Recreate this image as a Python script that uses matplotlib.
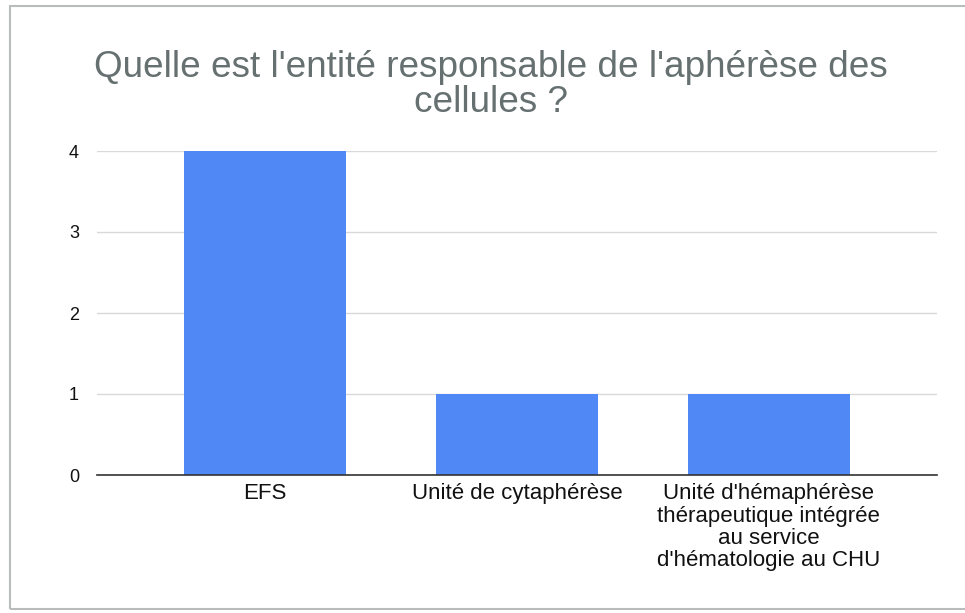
import numpy as np
import matplotlib
matplotlib.use("Agg")
import matplotlib.pyplot as plt
from matplotlib.patches import Rectangle

# data
categories = ["EFS", "Unité de cytaphérèse",
              "Unité d'hémaphérèse\nthérapeutique intégrée\nau service\nd'hématologie au CHU"]
counts = [4, 1, 1]
yticks = [0, 1, 2, 3, 4]
title = "Quelle est l'entité responsable de l'aphérèse des\ncellules ?"

plt.rcParams['font.family'] = ['Liberation Sans', 'DejaVu Sans']

fig = plt.figure(figsize=(9.65, 6.13), dpi=100)
ax = fig.add_axes([97/965, 1-475/613, (937-97)/965, (475-151)/613])

x = np.arange(len(categories))
ax.bar(x, counts, width=0.644, color='#5089f5', zorder=3)

ax.set_xlim(-0.668, len(categories) - 1 + 0.668)
ax.set_ylim(0, 4)
ax.set_yticks(yticks)
ax.set_xticks(x)
ax.set_xticklabels(categories, fontsize=16, linespacing=1.08, color='#111111')
ax.tick_params(axis='y', labelsize=13, length=0, pad=13, colors='#111111')
ax.tick_params(axis='x', length=0, pad=6)
ax.grid(axis='y', color='#d9d9d9', linewidth=1, zorder=0)
for s in ['top', 'right', 'left']:
    ax.spines[s].set_visible(False)
ax.spines['bottom'].set_color('#333333')
ax.spines['bottom'].set_linewidth(1.2)
ax.spines['bottom'].set_zorder(4)

fig.text(491/965, 1-85/613, title, ha='center', va='center', fontsize=26.6,
         color='#667070', linespacing=1.0)

# grey frame around the chart
fig.patches.append(Rectangle((10/965, 1-609/613), 1.0, (609-6)/613,
                             transform=fig.transFigure, fill=False,
                             edgecolor='#b8bcbc', linewidth=1.5))

fig.savefig("out.png", dpi=100)
